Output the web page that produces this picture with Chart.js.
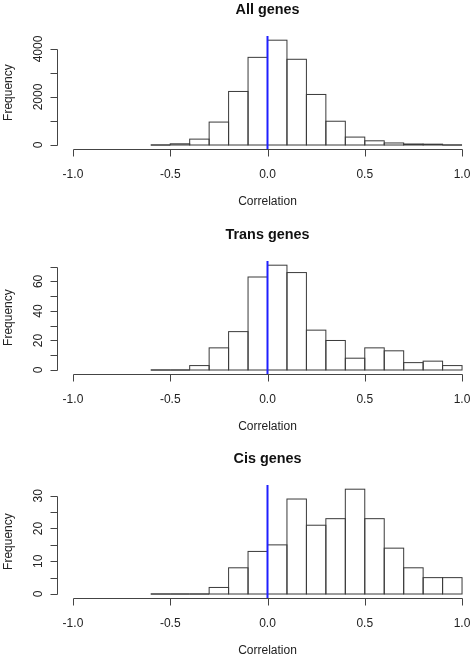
<!DOCTYPE html>
<html>
<head>
<meta charset="utf-8">
<script src="https://cdn.jsdelivr.net/npm/chart.js@4.4.1/dist/chart.umd.min.js"></script>
<style>
  html, body { margin: 0; padding: 0; background: #fff; }
  body { width: 472px; height: 656px; overflow: hidden; position: relative; }
  .panel { position: absolute; left: 0; width: 480px; height: 224px; }
</style>
</head>
<body>
<div class="panel" style="top:0px"><canvas id="chartAll" width="480" height="224"></canvas></div>
<div class="panel" style="top:225px"><canvas id="chartTrans" width="480" height="224"></canvas></div>
<div class="panel" style="top:449px"><canvas id="chartCis" width="480" height="224"></canvas></div>

<script>
// lower edge of each correlation bin (bins are 0.1 wide)
const binStarts = [-0.6, -0.5, -0.4, -0.3, -0.2, -0.1, 0.0, 0.1, 0.2, 0.3, 0.4, 0.5, 0.6, 0.7, 0.8, 0.9];
const binWidth = 0.1;

// counts per bin
const allGenes   = [0, 50, 245, 955, 2230, 3650, 4365, 3570, 2105, 990, 330, 175, 85, 42, 35, 0];
const transGenes = [0, 0, 3, 15, 26, 63, 71, 66, 27, 20, 8, 15, 13, 5, 6, 3];
const cisGenes   = [0, 0, 0, 2, 8, 13, 15, 29, 21, 23, 32, 23, 14, 8, 5, 5];

// axes
const xTicks = [-1.0, -0.5, 0.0, 0.5, 1.0];
const xTickLabels = ['-1.0', '-0.5', '0.0', '0.5', '1.0'];
const yTicksAll = [0, 1000, 2000, 3000, 4000];
const yLabelsAll = ['0', '', '2000', '', '4000'];
const yTicksTrans = [0, 10, 20, 30, 40, 50, 60, 70];
const yLabelsTrans = ['0', '', '20', '', '40', '', '60', ''];
const yTicksCis = [0, 5, 10, 15, 20, 25, 30];
const yLabelsCis = ['0', '', '10', '', '20', '', '30'];

const FONT = '"Liberation Sans", Arial, sans-serif';

// R style axes, bar outlines and the abline at 0
function rStyle(title, yTicks, yLabels) {
    return {
        id: 'rStyle',
        afterDatasetsDraw(chart) {
            const ctx = chart.ctx;
            const area = chart.chartArea;
            const bars = chart.getDatasetMeta(0).data;
            ctx.save();
            ctx.strokeStyle = '#3a3a3a';
            ctx.lineWidth = 1;
            bars.forEach(b => {
                const p = b.getProps(['x', 'y', 'base', 'width'], true);
                ctx.strokeRect(p.x - p.width / 2, Math.min(p.y, p.base), p.width, Math.abs(p.base - p.y));
            });
            const x0 = chart.scales.x.getPixelForValue(0);
            ctx.strokeStyle = '#1f1fff';
            ctx.lineWidth = 2;
            ctx.beginPath();
            ctx.moveTo(x0, area.top);
            ctx.lineTo(x0, area.bottom);
            ctx.stroke();
            ctx.restore();
        },
        afterDraw(chart) {
            const ctx = chart.ctx;
            const area = chart.chartArea;
            const xs = chart.scales.x, ys = chart.scales.y;
            ctx.save();
            ctx.strokeStyle = '#444';
            ctx.lineWidth = 1;

            // x axis (only from first to last tick)
            const xa = Math.round(area.bottom) + 0.5;
            ctx.beginPath();
            ctx.moveTo(Math.round(xs.getPixelForValue(xTicks[0])) + 0.5, xa);
            ctx.lineTo(Math.round(xs.getPixelForValue(xTicks[xTicks.length - 1])) + 0.5, xa);
            xTicks.forEach(v => {
                const px = Math.round(xs.getPixelForValue(v)) + 0.5;
                ctx.moveTo(px, xa);
                ctx.lineTo(px, xa + 7);
            });
            // y axis
            const ya = Math.round(area.left) + 0.5;
            ctx.moveTo(ya, Math.round(ys.getPixelForValue(yTicks[0])) + 0.5);
            ctx.lineTo(ya, Math.round(ys.getPixelForValue(yTicks[yTicks.length - 1])) + 0.5);
            yTicks.forEach(v => {
                const py = Math.round(ys.getPixelForValue(v)) + 0.5;
                ctx.moveTo(ya, py);
                ctx.lineTo(ya - 7, py);
            });
            ctx.stroke();

            // texts
            ctx.fillStyle = '#222';
            ctx.font = '12px ' + FONT;
            ctx.textAlign = 'center';
            ctx.textBaseline = 'alphabetic';
            xTicks.forEach((v, i) => {
                ctx.fillText(xTickLabels[i], xs.getPixelForValue(v), area.bottom + 29);
            });
            const cx = (area.left + area.right) / 2;
            ctx.fillText('Correlation', cx, area.bottom + 56);

            yTicks.forEach((v, i) => {
                if (!yLabels[i]) return;
                ctx.save();
                ctx.translate(area.left - 15, ys.getPixelForValue(v));
                ctx.rotate(-Math.PI / 2);
                ctx.fillText(yLabels[i], 0, 0);
                ctx.restore();
            });
            ctx.save();
            ctx.translate(11.5, (area.top + area.bottom) / 2);
            ctx.rotate(-Math.PI / 2);
            ctx.fillText('Frequency', 0, 0);
            ctx.restore();

            ctx.fillStyle = '#111';
            ctx.font = 'bold 14.4px ' + FONT;
            ctx.fillText(title, cx, 13.5);
            ctx.restore();
        }
    };
}

function drawHist(canvasId, title, counts, yTicks, yLabels) {
    const top = Math.max(...counts);
    return new Chart(document.getElementById(canvasId), {
        type: 'bar',
        data: {
            datasets: [{
                data: binStarts.map((s, i) => ({ x: s + binWidth / 2, y: counts[i] })),
                backgroundColor: '#ffffff',
                borderWidth: 0,
                barPercentage: 1,
                categoryPercentage: 1
            }]
        },
        options: {
            responsive: false,
            devicePixelRatio: 1,
            animation: false,
            layout: { padding: { left: 57.4, right: 2.4, top: 36, bottom: 74.8 } },
            plugins: { legend: { display: false }, tooltip: { enabled: false } },
            scales: {
                x: {
                    type: 'linear', display: false, offset: false, min: -1.08, max: 1.08,
                    ticks: { stepSize: 0.5, includeBounds: false }
                },
                y: {
                    type: 'linear', display: false, min: -0.04 * top, max: 1.04 * top,
                    ticks: { includeBounds: false }
                }
            }
        },
        plugins: [rStyle(title, yTicks, yLabels)]
    });
}

drawHist('chartAll', 'All genes', allGenes, yTicksAll, yLabelsAll);
drawHist('chartTrans', 'Trans genes', transGenes, yTicksTrans, yLabelsTrans);
drawHist('chartCis', 'Cis genes', cisGenes, yTicksCis, yLabelsCis);
</script>
</body>
</html>
